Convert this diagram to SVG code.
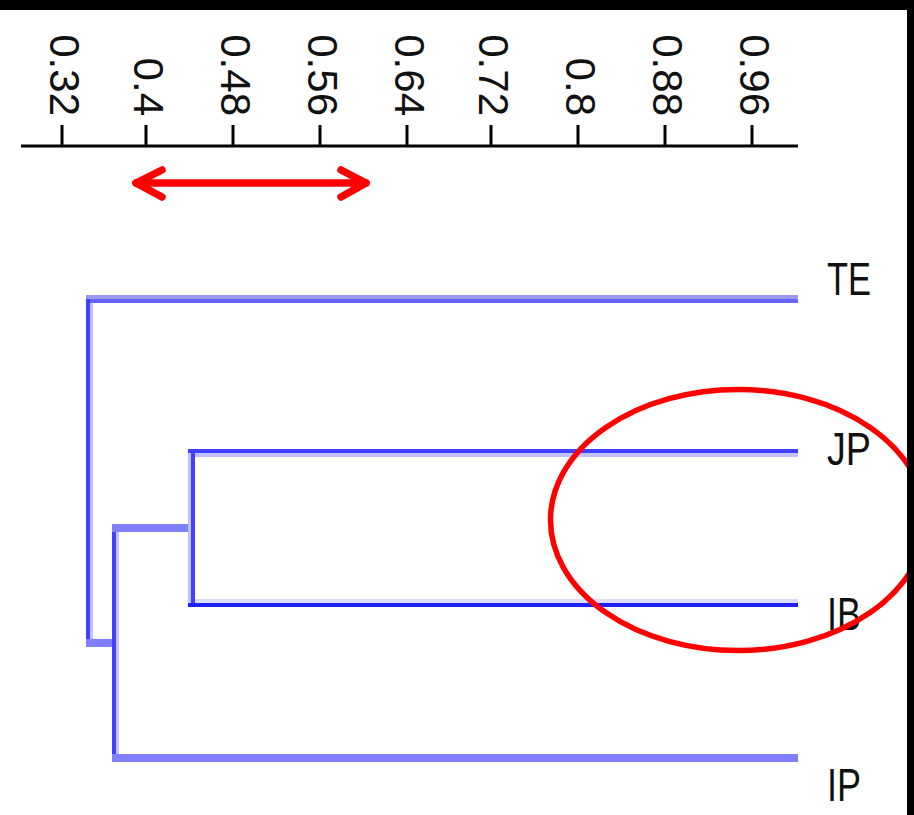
<svg xmlns="http://www.w3.org/2000/svg" width="914" height="815" viewBox="0 0 914 815">
<style>
.tick{font-family:"Liberation Sans",Arial,sans-serif;font-size:42px;fill:#111;text-anchor:end}
.leaf{font-family:"Liberation Sans",Arial,sans-serif;font-size:47px;fill:#111}
.ax{stroke:#000;stroke-width:3;fill:none}
.tk{stroke:#000;stroke-width:3}
.red{stroke:#ff0000;fill:none}
</style>
<rect x="0" y="0" width="914" height="815" fill="#fff"/>
<g id="axis">
<line class="ax" x1="21" y1="146" x2="798" y2="146"/>
<line class="tk" x1="62" y1="125" x2="62" y2="146"/>
<line class="tk" x1="146" y1="125" x2="146" y2="146"/>
<line class="tk" x1="233" y1="125" x2="233" y2="146"/>
<line class="tk" x1="320" y1="125" x2="320" y2="146"/>
<line class="tk" x1="407" y1="125" x2="407" y2="146"/>
<line class="tk" x1="491" y1="125" x2="491" y2="146"/>
<line class="tk" x1="578" y1="125" x2="578" y2="146"/>
<line class="tk" x1="665" y1="125" x2="665" y2="146"/>
<line class="tk" x1="752" y1="125" x2="752" y2="146"/>
<text class="tick" transform="translate(49.5,116) rotate(90)">0.32</text>
<text class="tick" transform="translate(133.5,116) rotate(90)">0.4</text>
<text class="tick" transform="translate(220.5,116) rotate(90)">0.48</text>
<text class="tick" transform="translate(307.5,116) rotate(90)">0.56</text>
<text class="tick" transform="translate(394.5,116) rotate(90)">0.64</text>
<text class="tick" transform="translate(478.5,116) rotate(90)">0.72</text>
<text class="tick" transform="translate(565.5,116) rotate(90)">0.8</text>
<text class="tick" transform="translate(652.5,116) rotate(90)">0.88</text>
<text class="tick" transform="translate(739.5,116) rotate(90)">0.96</text>
</g>
<g id="range-arrow" class="red" stroke-width="7.5" stroke-linecap="round" stroke-linejoin="round">
<line x1="136" y1="183" x2="366" y2="183"/>
<polyline points="162,170 136,183 162,197"/>
<polyline points="341,170 366,183 341,197"/>
</g>
<g id="connectors">
<rect x="86" y="295" width="712" height="4" fill="#9a9af6"/>
<rect x="86" y="299" width="712" height="4" fill="#6666ff"/>
<rect x="86" y="299" width="4" height="348" fill="#4040ff"/>
<rect x="90" y="303" width="3" height="336" fill="#c0c0ff"/>
<rect x="86" y="639" width="33" height="8" fill="#8080ff"/>
<rect x="112" y="524" width="83" height="8" fill="#8080ff"/>
<rect x="112" y="532" width="4" height="230" fill="#4040ff"/>
<rect x="116" y="532" width="3" height="222" fill="#c0c0ff"/>
<rect x="188" y="449" width="610" height="4" fill="#4040ff"/>
<rect x="191" y="453" width="607" height="4" fill="#c0c0ff"/>
<rect x="188" y="453" width="3" height="154" fill="#c0c0ff"/>
<rect x="191" y="449" width="4" height="158" fill="#4040ff"/>
<rect x="195" y="599" width="603" height="4" fill="#dcdcf8"/>
<rect x="188" y="603" width="610" height="4" fill="#2020ff"/>
<rect x="112" y="754" width="686" height="8" fill="#8080ff"/>
</g>
<g id="node-TE"><text class="leaf" x="827" y="295" textLength="44" lengthAdjust="spacingAndGlyphs">TE</text></g>
<g id="node-JP"><text class="leaf" x="827" y="465" textLength="44" lengthAdjust="spacingAndGlyphs">JP</text></g>
<g id="node-IB"><text class="leaf" x="827" y="630" textLength="34" lengthAdjust="spacingAndGlyphs">IB</text></g>
<g id="node-IP"><text class="leaf" x="827" y="801" textLength="34" lengthAdjust="spacingAndGlyphs">IP</text></g>
<g id="highlight">
<ellipse class="red" cx="738" cy="520" rx="187.5" ry="130.5" stroke-width="5.5"/>
</g>
<g id="frame">
<rect x="0" y="0" width="914" height="10" fill="#000"/>
<rect x="907" y="0" width="7" height="815" fill="#000"/>
</g>
</svg>
